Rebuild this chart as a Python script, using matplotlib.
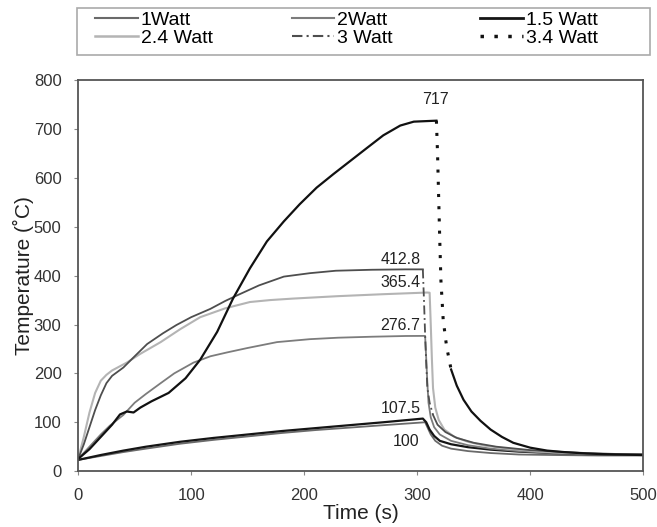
import matplotlib.pyplot as plt
from matplotlib.lines import Line2D
from matplotlib.patches import Rectangle

plt.rcParams['font.family'] = ['Liberation Sans', 'DejaVu Sans']

# heating phase (time s, temperature C), then cooling after power off
t_1w = [0, 20, 40, 60, 90, 120, 150, 180, 210, 240, 270, 307]
T_1w = [23, 31, 39, 46, 56, 64, 71, 78, 84, 89, 94, 100]
t_1w_cool = [307, 309, 312, 316, 322, 330, 345, 365, 390, 420, 460, 500]
T_1w_cool = [100, 90, 75, 62, 52, 46, 41, 37, 34, 33, 32, 32]

t_15w = [0, 20, 40, 60, 90, 120, 150, 180, 210, 240, 270, 305]
T_15w = [23, 33, 42, 50, 60, 68, 75, 82, 88, 94, 100, 107.5]
t_15w_cool = [305, 308, 311, 315, 320, 330, 345, 365, 390, 420, 450, 500]
T_15w_cool = [107.5, 100, 85, 72, 62, 55, 49, 44, 40, 37, 35, 34]

t_2w = [0, 10, 20, 28, 40, 50, 60, 73, 85, 102, 117, 132, 150, 176, 205, 230, 260, 290, 307]
T_2w = [25, 50, 75, 93, 115, 140, 158, 180, 200, 222, 235, 243, 252, 264, 270, 273, 275, 276.5, 276.7]
t_2w_cool = [307, 308, 309, 310, 312, 315, 320, 330, 345, 365, 390, 420, 450, 500]
T_2w_cool = [276.7, 230, 180, 140, 110, 90, 75, 62, 53, 46, 41, 37, 35, 33]

t_24w = [0, 5, 10, 15, 20, 25, 30, 43, 55, 73, 90, 108, 130, 152, 170, 190, 230, 270, 309]
T_24w = [25, 70, 120, 160, 185, 197, 206, 222, 240, 264, 290, 315, 333, 346, 350, 353, 358, 362, 365.4]
t_24w_cool = [309, 311, 312, 313, 314, 316, 319, 324, 333, 345, 360, 380, 410, 440, 470, 500]
T_24w_cool = [365.4, 365, 300, 230, 170, 130, 105, 85, 70, 60, 52, 46, 40, 37, 35, 34]

t_3w = [0, 5, 10, 15, 20, 25, 30, 40, 50, 61, 75, 87, 100, 117, 130, 141, 160, 182, 205, 228, 260, 290, 305]
T_3w = [25, 55, 90, 125, 155, 180, 195, 212, 235, 260, 282, 299, 315, 332, 348, 360, 380, 398, 405, 410, 412, 412.8, 412.8]
t_3w_cool = [305, 306, 307, 308, 309, 311, 314, 318, 325, 335, 350, 370, 400, 430, 460, 500]
T_3w_cool = [412.8, 350, 280, 220, 170, 140, 115, 95, 80, 68, 58, 50, 43, 39, 36, 34]

t_34w = [0, 10, 20, 30, 37, 43, 49, 55, 65, 80, 95, 108, 123, 137, 152, 167, 182, 196, 211, 226, 241, 256, 270, 285, 297, 317]
T_34w = [25, 45, 70, 95, 116, 122, 120, 130, 143, 160, 190, 228, 285, 353, 415, 470, 511, 546, 580, 608, 635, 662, 687, 707, 715, 717]
t_34w_drop = [317, 318, 319, 320, 321, 323, 326, 330]
T_34w_drop = [717, 650, 560, 470, 390, 310, 255, 208]
t_34w_cool = [330, 335, 341, 348, 356, 365, 375, 385, 400, 415, 430, 450, 475, 500]
T_34w_cool = [208, 175, 146, 122, 103, 85, 70, 58, 48, 42, 39, 36, 34, 33]

labels = ['1Watt', '2Watt', '1.5 Watt', '2.4 Watt', '3 Watt', '3.4 Watt']

fig = plt.figure(figsize=(6.57, 5.27), dpi=100)
ax = fig.add_axes([0.119, 0.106, 0.86, 0.742])

c1, c2, c15, c24, c3, c34 = '#6a6a6a', '#7c7c7c', '#151515', '#b4b4b4', '#4e4e4e', '#111111'
dashdot = (0, (5, 2, 1, 2))
dots = (0, (1, 3))

ax.plot(t_1w + t_1w_cool[1:], T_1w + T_1w_cool[1:], color=c1, lw=1.3)
ax.plot(t_15w + t_15w_cool[1:], T_15w + T_15w_cool[1:], color=c15, lw=1.6)
ax.plot(t_2w + t_2w_cool[1:], T_2w + T_2w_cool[1:], color=c2, lw=1.3)
ax.plot(t_24w + t_24w_cool[1:], T_24w + T_24w_cool[1:], color=c24, lw=1.5)
ax.plot(t_3w, T_3w, color=c3, lw=1.3)
ax.plot(t_3w_cool[:7], T_3w_cool[:7], color=c3, lw=1.3, ls=dashdot)
ax.plot(t_3w_cool[6:], T_3w_cool[6:], color=c3, lw=1.3)
ax.plot(t_34w, T_34w, color=c34, lw=1.6)
ax.plot(t_34w_drop, T_34w_drop, color=c34, lw=2.2, ls=dots)
ax.plot(t_34w_cool, T_34w_cool, color=c34, lw=1.6)

# value labels
lab = dict(fontsize=11.5, color='#222222')
ax.text(316, 745, '717', ha='center', va='bottom', **lab)
ax.text(303, 418, '412.8', ha='right', va='bottom', **lab)
ax.text(303, 371, '365.4', ha='right', va='bottom', **lab)
ax.text(303, 283, '276.7', ha='right', va='bottom', **lab)
ax.text(303, 113, '107.5', ha='right', va='bottom', **lab)
ax.text(290, 76, '100', ha='center', va='top', **lab)

ax.set_xlim(0, 500)
ax.set_ylim(0, 800)
ax.set_xticks(range(0, 501, 100))
ax.set_yticks(range(0, 801, 100))
ax.tick_params(labelsize=12, labelcolor='#333333', color='#888888', length=3, pad=9, direction='out')
for s in ax.spines.values():
    s.set_color('#555555')
    s.set_linewidth(1.3)
ax.set_xlabel('Time (s)', fontsize=15, color='#222222', labelpad=1)
ax.set_ylabel('Temperature (˚C)', fontsize=15, color='#222222', labelpad=0)

# legend box like the spreadsheet one: three evenly spaced columns
fig.add_artist(Rectangle((0.117, 0.896), 0.872, 0.088, transform=fig.transFigure,
                         facecolor='white', edgecolor='#aaaaaa', lw=1.2))
handles = [
    Line2D([], [], color=c1, lw=1.5),
    Line2D([], [], color=c2, lw=1.5),
    Line2D([], [], color=c15, lw=2),
    Line2D([], [], color=c24, lw=1.8),
    Line2D([], [], color=c3, lw=1.5, ls=dashdot),
    Line2D([], [], color=c34, lw=2.5, ls=dots),
]
for i, x0 in enumerate([0.145, 0.444, 0.731]):
    fig.legend([handles[i], handles[i + 3]], [labels[i], labels[i + 3]],
               loc='upper left', bbox_to_anchor=(x0, 0.978), frameon=False,
               fontsize=14, handlelength=2.2, handletextpad=0.15, borderpad=0,
               borderaxespad=0, labelspacing=0.02)

fig.savefig('out.png', dpi=100)
